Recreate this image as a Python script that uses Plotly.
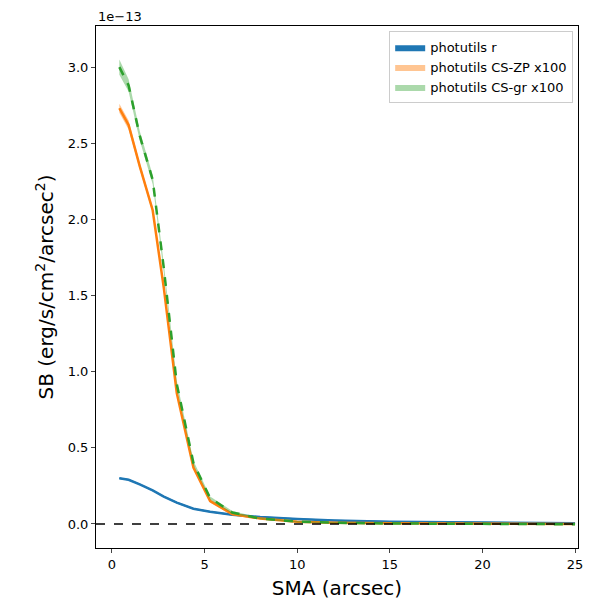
import plotly.graph_objects as go

sma = [0.4, 0.9, 1.5, 2.2, 2.8, 3.5, 4.4, 5.3, 6.5, 8.0, 10.0, 12.0, 15.0, 18.0, 21.0, 25.0]
sb_r = [0.30, 0.29, 0.26, 0.22, 0.18, 0.14, 0.10, 0.08, 0.06, 0.045, 0.032, 0.022, 0.014, 0.010, 0.008, 0.005]
sb_zp = [2.73, 2.62, 2.35, 2.06, 1.55, 0.86, 0.37, 0.15, 0.065, 0.035, 0.015, 0.008, 0.004, 0.002, 0.001, 0.0]
sb_gr = [3.00, 2.88, 2.55, 2.26, 1.68, 0.92, 0.40, 0.17, 0.075, 0.035, 0.015, 0.008, 0.003, 0.001, 0.0, -0.002]
err_r = [0.005] * len(sma)
err_zp = [0.03, 0.03, 0.02, 0.02, 0.02, 0.015, 0.01, 0.01, 0.01, 0.005, 0.005, 0.005, 0.005, 0.005, 0.005, 0.005]
err_gr = [0.05, 0.04, 0.03, 0.03, 0.03, 0.02, 0.015, 0.01, 0.01, 0.005, 0.005, 0.005, 0.005, 0.005, 0.005, 0.005]

fig = go.Figure()

def band(y, e, fill, name, line_color, dash):
    up = [a + b for a, b in zip(y, e)]
    lo = [a - b for a, b in zip(y, e)]
    fig.add_trace(go.Scatter(x=sma + sma[::-1], y=up + lo[::-1], fill="toself", fillcolor=fill,
                             line=dict(width=0), name=name, mode="lines", hoverinfo="skip"))
    fig.add_trace(go.Scatter(x=sma, y=y, mode="lines", line=dict(color=line_color, width=2.5, dash=dash),
                             showlegend=False))

band(sb_r, err_r, "#1f77b4", "photutils r", "#1f77b4", "solid")
band(sb_zp, err_zp, "rgba(255,127,14,0.45)", "photutils CS-ZP x100", "#ff7f0e", "solid")
band(sb_gr, err_gr, "rgba(44,160,44,0.4)", "photutils CS-gr x100", "#2ca02c", "dash")

fig.add_hline(y=0, line=dict(color="black", dash="dash", width=1.5))

axis = dict(showline=True, mirror=True, linecolor="black", ticks="outside", ticklen=4,
            showgrid=False, zeroline=False, automargin=False, tickfont=dict(size=13, color="black"))
fig.update_xaxes(range=[-0.86, 25.16], tickvals=[0, 5, 10, 15, 20, 25],
                 title=dict(text="SMA (arcsec)", standoff=10, font=dict(size=20, color="black")), **axis)
fig.update_yaxes(range=[-0.158, 3.27], tickvals=[0, 0.5, 1.0, 1.5, 2.0, 2.5, 3.0], tickformat=".1f",
                 title=dict(text="SB (erg/s/cm<sup>2</sup>/arcsec<sup>2</sup>)", standoff=8, font=dict(size=20, color="black")), **axis)
fig.add_annotation(text="1e\u221213", xref="paper", yref="paper", x=0, y=1.0, xanchor="left",
                   yanchor="bottom", showarrow=False, font=dict(size=13, color="black"))
fig.update_layout(width=600, height=600, plot_bgcolor="white", paper_bgcolor="white",
                  font=dict(family="DejaVu Sans"),
                  margin=dict(l=88, r=30, t=18, b=60),
                  legend=dict(x=0.99, y=0.99, xanchor="right", yanchor="top", bordercolor="#ccc",
                              borderwidth=1, font=dict(size=13, color="black")))
fig.write_html("out.html")
